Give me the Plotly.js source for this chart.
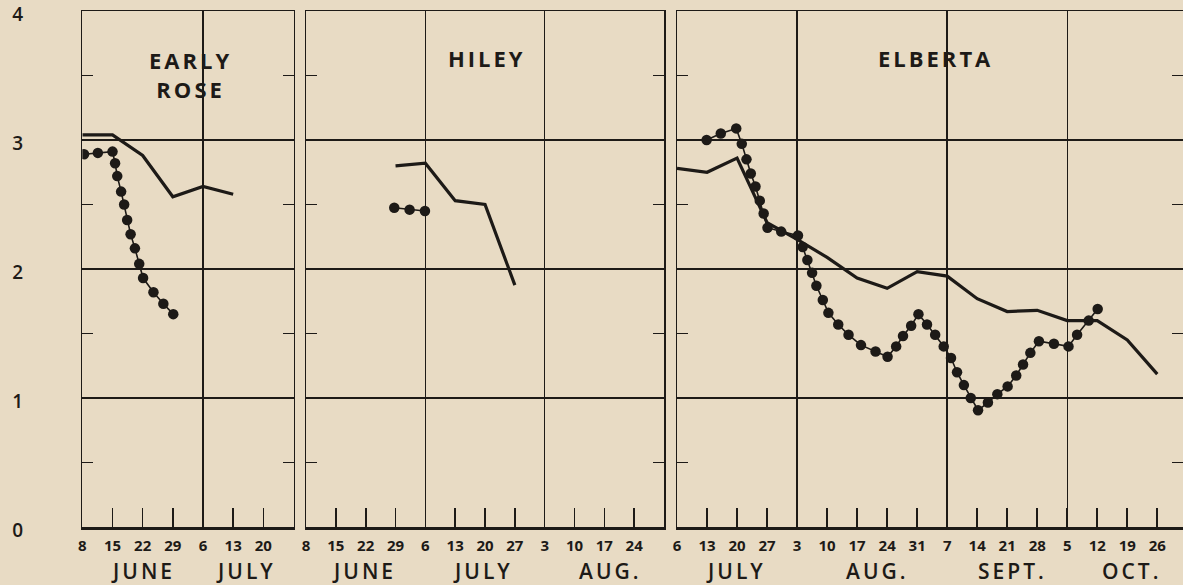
<!DOCTYPE html>
<html><head><meta charset="utf-8">
<script src="https://cdn.plot.ly/plotly-3.0.1.min.js"></script>
<style>
html,body{margin:0;padding:0;background:#e8dbc4;overflow:hidden}
.annotation-text{letter-spacing:3px}
</style></head>
<body><div id="chart" style="width:1183px;height:585px"></div>
<script>
// x values are day numbers counted from June 1 (June 8 = 8, July 6 = 36, Aug 3 = 64, Sept 7 = 99, Oct 5 = 127)
const yTickVals = [0, 1, 2, 3, 4];
const yTickText = ['0', '1', '2', '3', '4'];

// EARLY ROSE
const earlyRoseWeeks = [8, 15, 22, 29, 36, 43, 50];
const earlyRoseWeekLabels = ['8', '15', '22', '29', '6', '13', '20'];
const earlyRoseSolidX = [8, 15, 22, 29, 36, 43];
const earlyRoseSolidY = [3.04, 3.04, 2.88, 2.56, 2.64, 2.58];
const earlyRoseDotX = [8.4, 11.6, 15.0, 15.6, 16.1, 17.0, 17.7, 18.4, 19.2, 20.2, 21.2, 22.1, 24.5, 26.8, 29.1];
const earlyRoseDotY = [2.89, 2.90, 2.91, 2.82, 2.72, 2.60, 2.50, 2.38, 2.27, 2.16, 2.04, 1.93, 1.82, 1.73, 1.65];

// HILEY
const hileyWeeks = [8, 15, 22, 29, 36, 43, 50, 57, 64, 71, 78, 85];
const hileyWeekLabels = ['8', '15', '22', '29', '6', '13', '20', '27', '3', '10', '17', '24'];
const hileySolidX = [29, 36, 43, 50, 57];
const hileySolidY = [2.80, 2.82, 2.53, 2.50, 1.875];
const hileyDotX = [28.7, 32.3, 35.9];
const hileyDotY = [2.475, 2.46, 2.45];

// ELBERTA
const elbertaWeeks = [36, 43, 50, 57, 64, 71, 78, 85, 92, 99, 106, 113, 120, 127, 134, 141, 148];
const elbertaWeekLabels = ['6', '13', '20', '27', '3', '10', '17', '24', '31', '7', '14', '21', '28', '5', '12', '19', '26'];
const elbertaSolidX = [36, 43, 50, 57, 64, 71, 78, 85, 92, 99, 106, 113, 120, 127, 134, 141, 148];
const elbertaSolidY = [2.78, 2.75, 2.86, 2.36, 2.23, 2.09, 1.93, 1.85, 1.98, 1.945, 1.77, 1.67, 1.68, 1.60, 1.60, 1.45, 1.185];
const elbertaDotX = [42.9, 46.2, 49.8, 51.1, 52.2, 53.2, 54.3, 55.3, 56.2, 57.1, 60.3, 64.2, 65.3, 66.4, 67.5, 68.5, 70.0, 71.3, 73.6, 76.0, 78.9, 82.3, 85.1, 87.1, 88.7, 90.6, 92.3, 94.3, 96.2, 98.2, 99.9, 101.3, 102.9, 104.5, 106.2, 108.5, 110.7, 113.1, 115.1, 116.7, 118.4, 120.4, 123.9, 127.3, 129.3, 132.0, 134.1];
const elbertaDotY = [3.00, 3.05, 3.09, 2.97, 2.85, 2.74, 2.64, 2.53, 2.43, 2.32, 2.29, 2.26, 2.17, 2.07, 1.97, 1.87, 1.76, 1.66, 1.57, 1.49, 1.41, 1.36, 1.32, 1.40, 1.48, 1.56, 1.65, 1.57, 1.49, 1.40, 1.31, 1.20, 1.10, 1.00, 0.905, 0.965, 1.03, 1.09, 1.175, 1.26, 1.35, 1.44, 1.42, 1.40, 1.49, 1.60, 1.69];

// month boundaries (vertical grid lines)
const earlyRoseMonthLines = [36];
const hileyMonthLines = [36, 64];
const elbertaMonthLines = [64, 99, 127];

const INK = '#1d1a17';
const BG = '#e8dbc4';
const FONT = 'Open Sans';

function solid(x, y, xa, ya) {
  return {x, y, xaxis: xa, yaxis: ya, type: 'scatter', mode: 'lines',
    line: {color: INK, width: 3.2}, hoverinfo: 'skip', showlegend: false};
}
function beads(x, y, xa, ya) {
  return {x, y, xaxis: xa, yaxis: ya, type: 'scatter', mode: 'lines+markers',
    line: {color: INK, width: 1.6}, marker: {color: INK, size: 10.5},
    hoverinfo: 'skip', showlegend: false};
}
// empty traces that only register the top frame axes (no points)
function frameHolder(xa, ya) {
  return {x: [], y: [], xaxis: xa, yaxis: ya, type: 'scatter', mode: 'lines',
    hoverinfo: 'skip', showlegend: false};
}

const data = [
  frameHolder('x4', 'y'),
  frameHolder('x5', 'y2'),
  frameHolder('x6', 'y3'),
  solid(earlyRoseSolidX, earlyRoseSolidY, 'x', 'y'),
  beads(earlyRoseDotX, earlyRoseDotY, 'x', 'y'),
  solid(hileySolidX, hileySolidY, 'x2', 'y2'),
  beads(hileyDotX, hileyDotY, 'x2', 'y2'),
  solid(elbertaSolidX, elbertaSolidY, 'x3', 'y3'),
  beads(elbertaDotX, elbertaDotY, 'x3', 'y3')
];

function xMain(domain, range, anchor, vals, text) {
  return {domain, range, anchor, type: 'linear', showline: true, linewidth: 3, linecolor: INK,
    mirror: false, ticks: 'inside', ticklen: 19, tickwidth: 1.6, tickcolor: INK,
    tickmode: 'array', tickvals: vals, ticktext: text, showgrid: false, zeroline: false,
    tickfont: {family: FONT, size: 15, color: INK, weight: 700}, ticklabelstandoff: 3,
    ticklabeloverflow: 'allow', fixedrange: true};
}
function xTop(over, range, anchor, gridVals) {
  return {overlaying: over, side: 'top', range, anchor, type: 'linear', showline: true,
    linewidth: 1.5, linecolor: INK, ticks: '', showticklabels: false,
    tickmode: 'array', tickvals: gridVals, showgrid: true, gridcolor: INK, gridwidth: 1.4,
    zeroline: false, fixedrange: true};
}
function yAx(anchor, showLabels) {
  return {domain: [0, 1], range: [0, 4], anchor, type: 'linear', showline: true, linewidth: 1.5,
    linecolor: INK, mirror: 'ticks', ticks: 'inside', ticklen: 11, tickwidth: 1.5, tickcolor: INK,
    tickmode: 'array', tickvals: yTickVals, ticktext: yTickText, showticklabels: showLabels,
    showgrid: true, gridcolor: INK, gridwidth: 1.4, zeroline: false,
    minor: {tickmode: 'array', tickvals: [0.5, 1.5, 2.5, 3.5], ticks: 'inside', ticklen: 11,
      tickwidth: 1.5, tickcolor: INK, showgrid: false},
    tickfont: {family: FONT, size: 19, color: INK, weight: 600}, ticklabelstandoff: 54,
    ticklabelshift: 3, ticklabeloverflow: 'allow', fixedrange: true};
}

const r1 = [8, 57], r2 = [8, 92], r3 = [36, 154];

function monthAnn(text, x, xref) {
  return {text, x, xref, y: -0.086, yref: 'paper', xanchor: 'center', yanchor: 'middle',
    showarrow: false, font: {family: FONT, size: 21, color: INK, weight: 600}};
}
function titleAnn(text, x, xref, y) {
  return {text, x, xref, y, yref: 'paper', xanchor: 'center', yanchor: 'middle',
    showarrow: false, font: {family: FONT, size: 22, color: INK, weight: 700}};
}

const layout = {
  width: 1183, height: 585,
  margin: {l: 0, r: 0, t: 11, b: 58, pad: 0},
  paper_bgcolor: BG, plot_bgcolor: BG,
  showlegend: false,
  xaxis: xMain([0.0696, 0.2481], r1, 'y', earlyRoseWeeks, earlyRoseWeekLabels),
  xaxis2: xMain([0.2587, 0.5613], r2, 'y2', hileyWeeks, hileyWeekLabels),
  xaxis3: xMain([0.5723, 1.0], r3, 'y3', elbertaWeeks, elbertaWeekLabels),
  xaxis4: xTop('x', r1, 'y', earlyRoseMonthLines),
  xaxis5: xTop('x2', r2, 'y2', hileyMonthLines),
  xaxis6: xTop('x3', r3, 'y3', elbertaMonthLines),
  yaxis: yAx('x', true),
  yaxis2: yAx('x2', false),
  yaxis3: yAx('x3', false),
  annotations: [
    titleAnn('EARLY<br>ROSE', 33, 'x', 0.876),
    titleAnn('HILEY', 50.5, 'x2', 0.908),
    titleAnn('ELBERTA', 96.2, 'x3', 0.908),
    monthAnn('JUNE', 22, 'x'),
    monthAnn('JULY', 46, 'x'),
    monthAnn('JUNE', 21.6, 'x2'),
    monthAnn('JULY', 49.5, 'x2'),
    monthAnn('AUG.', 79.3, 'x2'),
    monthAnn('JULY', 49.8, 'x3'),
    monthAnn('AUG.', 82.7, 'x3'),
    monthAnn('SEPT.', 114.2, 'x3'),
    monthAnn('OCT.', 141.9, 'x3')
  ]
};

Plotly.newPlot('chart', data, layout, {staticPlot: true, displayModeBar: false});
</script></body></html>
